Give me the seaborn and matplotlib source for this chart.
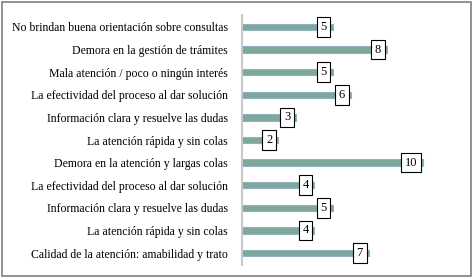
import matplotlib
matplotlib.use("Agg")
import matplotlib.pyplot as plt
import seaborn as sns
import pandas as pd
from matplotlib.patches import Rectangle

categories = [
    "No brindan buena orientación sobre consultas",
    "Demora en la gestión de trámites",
    "Mala atención / poco o ningún interés",
    "La efectividad del proceso al dar solución",
    "Información clara y resuelve las dudas",
    "La atención rápida y sin colas",
    "Demora en la atención y largas colas",
    "La efectividad del proceso al dar solución",
    "Información clara y resuelve las dudas",
    "La atención rápida y sin colas",
    "Calidad de la atención: amabilidad y trato",
]
values = [5, 8, 5, 6, 3, 2, 10, 4, 5, 4, 7]

df = pd.DataFrame({"id": [f"c{i}" for i in range(len(categories))], "val": values})

sns.set_theme(style="white")
plt.rcParams["font.family"] = ["Liberation Serif", "DejaVu Serif"]

W, H = 475, 279
fig = plt.figure(figsize=(W / 100, H / 100), dpi=100)
left = 242 / W
right = (242 + 12.5 * 18.1) / W
bottom = (H - 265) / H
top = (H - 15) / H
ax = fig.add_axes([left, bottom, right - left, top - bottom])

sns.barplot(data=df, x="val", y="id", orient="h", ax=ax, color="#7fa89a",
            width=0.28, edgecolor="#8fb3c4", linewidth=0.8, saturation=1)

ax.set_xlim(0, 12.5)
ax.set_ylim(10.53, -0.53)
ax.set_yticks(range(len(categories)))
ax.set_yticklabels(categories)
ax.set_xlabel("")
ax.set_ylabel("")
ax.set_xticks([])
for s in ["top", "right", "bottom"]:
    ax.spines[s].set_visible(False)
ax.spines["left"].set_color("#c8c8c8")
ax.spines["left"].set_linewidth(1.5)
ax.tick_params(axis="y", length=0, pad=10, labelsize=8.5, colors="black")

for i, v in enumerate(values):
    ax.annotate(str(v), xy=(v, i), xytext=(-4.2, 0), textcoords="offset points",
                ha="right", va="center", fontsize=9, color="black",
                bbox=dict(boxstyle="square,pad=0.3", fc="white", ec="black", lw=0.8))

fig.patches.append(Rectangle((2 / W, 3 / H), 469 / W, 274 / H, transform=fig.transFigure,
                             fill=False, ec="#7f7f7f", lw=1.2))

fig.savefig("out.png", dpi=100)
